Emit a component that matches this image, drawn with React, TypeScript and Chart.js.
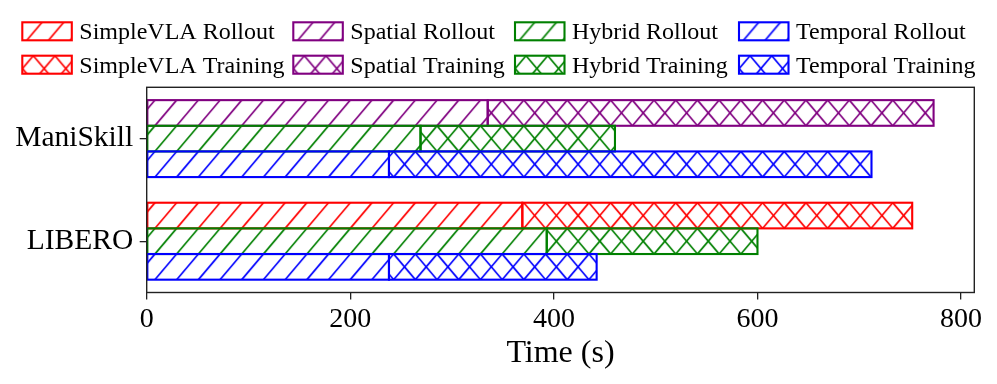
import React, { useEffect, useRef } from 'react';
import { Chart, registerables } from 'chart.js';

Chart.register(...registerables);

// ---------------- data ----------------
const categories = ['ManiSkill', 'LIBERO'];
const simpleVlaRollout = [null, 369];
const simpleVlaTraining = [null, 383];
const spatialRollout = [335, null];
const spatialTraining = [438, null];
const hybridRollout = [269, 393];
const hybridTraining = [191, 207];
const temporalRollout = [238, 238];
const temporalTraining = [474, 204];
const xTickValues = [0, 200, 400, 600, 800];
const xMax = 813;
const xTitle = 'Time (s)';

// ---------------- styling ----------------
const FONT = "'Liberation Serif', 'Times New Roman', Times, serif";
const HATCH_P = 21.7; // horizontal period
const HATCH_Q = 25.65; // vertical period

type Series = {
  label: string;
  color: string;
  cross: boolean;
  stack: string;
  data: (number | null)[];
};

const series: Series[] = [
  { label: 'SimpleVLA Rollout', color: '#ff0000', cross: false, stack: 'A', data: simpleVlaRollout },
  { label: 'SimpleVLA Training', color: '#ff0000', cross: true, stack: 'A', data: simpleVlaTraining },
  { label: 'Spatial Rollout', color: '#800080', cross: false, stack: 'A', data: spatialRollout },
  { label: 'Spatial Training', color: '#800080', cross: true, stack: 'A', data: spatialTraining },
  { label: 'Hybrid Rollout', color: '#008000', cross: false, stack: 'B', data: hybridRollout },
  { label: 'Hybrid Training', color: '#008000', cross: true, stack: 'B', data: hybridTraining },
  { label: 'Temporal Rollout', color: '#0000ff', cross: false, stack: 'C', data: temporalRollout },
  { label: 'Temporal Training', color: '#0000ff', cross: true, stack: 'C', data: temporalTraining },
];

function makeHatch(ctx: CanvasRenderingContext2D, color: string, cross: boolean, tx: number, ty: number) {
  const w = Math.round(HATCH_P * 10);
  const h = Math.round(HATCH_Q * 20);
  const c = document.createElement('canvas');
  c.width = w;
  c.height = h;
  const g = c.getContext('2d')!;
  g.strokeStyle = color;
  g.lineWidth = 1.7;
  g.beginPath();
  for (let n = -2; n <= 32; n++) {
    g.moveTo(n * HATCH_P, 0);
    g.lineTo((n - 20) * HATCH_P, h);
  }
  if (cross) {
    for (let n = -22; n <= 12; n++) {
      g.moveTo(n * HATCH_P, 0);
      g.lineTo((n + 20) * HATCH_P, h);
    }
  }
  g.stroke();
  const pat = ctx.createPattern(c, 'repeat')!;
  pat.setTransform(new DOMMatrix([1, 0, 0, 1, tx, ty]));
  return pat;
}

const LEGEND_COL_X = [22.3, 293.3, 515, 739];
const LEGEND_ROW_Y = [22.3, 55.7];
const LEGEND_BOX_W = 49.5;
const LEGEND_BOX_H = 18;
const LEGEND_TEXT_DX = 57;

export default function App() {
  const canvasRef = useRef<HTMLCanvasElement | null>(null);

  useEffect(() => {
    const canvas = canvasRef.current!;
    const ctx = canvas.getContext('2d')!;

    const barPatterns = series.map((s) => makeHatch(ctx, s.color, s.cross, 3, 23.15));

    const outlinePlugin = {
      id: 'outlines',
      afterDatasetsDraw(chart: any) {
        const c = chart.ctx;
        c.save();
        chart.data.datasets.forEach((ds: any, i: number) => {
          const meta = chart.getDatasetMeta(i);
          meta.data.forEach((el: any, j: number) => {
            if (ds.data[j] == null) return;
            const p = el.getProps(['x', 'y', 'base', 'height'], true);
            c.strokeStyle = series[i].color;
            c.lineWidth = 2.1;
            c.strokeRect(Math.min(p.base, p.x), p.y - p.height / 2, Math.abs(p.x - p.base), p.height);
          });
        });
        const a = chart.chartArea;
        c.strokeStyle = '#222';
        c.lineWidth = 1.4;
        c.strokeRect(a.left, a.top, a.right - a.left, a.bottom - a.top);
        c.restore();
      },
    };

    const legendPlugin = {
      id: 'gridLegend',
      afterDraw(chart: any) {
        const c = chart.ctx;
        c.save();
        series.forEach((s, i) => {
          const col = Math.floor(i / 2);
          const row = i % 2;
          const x = LEGEND_COL_X[col];
          const y = LEGEND_ROW_Y[row];
          const pat = s.cross
            ? makeHatch(c, s.color, true, x + 11, y)
            : makeHatch(c, s.color, false, x + 4.4, y + LEGEND_BOX_H);
          c.fillStyle = '#fff';
          c.fillRect(x, y, LEGEND_BOX_W, LEGEND_BOX_H);
          c.fillStyle = pat;
          c.fillRect(x, y, LEGEND_BOX_W, LEGEND_BOX_H);
          c.strokeStyle = s.color;
          c.lineWidth = 2.1;
          c.strokeRect(x, y, LEGEND_BOX_W, LEGEND_BOX_H);
          c.fillStyle = '#000';
          c.font = `24px ${FONT}`;
          c.textBaseline = 'alphabetic';
          c.textAlign = 'left';
          c.fillText(s.label, x + LEGEND_TEXT_DX, y + LEGEND_BOX_H - 1.2);
        });
        c.restore();
      },
    };

    const chart = new Chart(ctx, {
      type: 'bar',
      data: {
        labels: categories,
        datasets: series.map((s, i) => ({
          label: s.label,
          data: s.data as any,
          stack: s.stack,
          backgroundColor: barPatterns[i] as any,
          borderWidth: 0,
          categoryPercentage: 0.75,
          barPercentage: 1.0,
        })),
      },
      options: {
        indexAxis: 'y',
        responsive: false,
        animation: false,
        devicePixelRatio: 1,
        layout: { padding: { top: 87.3, right: 22.7, left: 0, bottom: 0 } },
        plugins: {
          legend: { display: false },
          tooltip: { enabled: false },
          title: { display: false },
        },
        scales: {
          x: {
            type: 'linear',
            stacked: true,
            min: 0,
            max: xMax,
            afterFit: (scale: any) => {
              scale.height = 91.5;
            },
            afterBuildTicks: (scale: any) => {
              scale.ticks = xTickValues.map((v) => ({ value: v }));
            },
            ticks: {
              padding: 3,
              color: '#000',
              font: { family: FONT, size: 28 },
              maxRotation: 0,
            },
            grid: {
              display: true,
              drawOnChartArea: false,
              drawTicks: true,
              tickLength: 7,
              color: '#222',
              lineWidth: 1.3,
            },
            border: { display: false },
            title: {
              display: true,
              text: xTitle,
              color: '#000',
              font: { family: FONT, size: 32 },
              padding: { top: 0, bottom: 11 },
            },
          },
          y: {
            type: 'category',
            stacked: true,
            offset: true,
            afterFit: (scale: any) => {
              scale.width = 146.7;
            },
            ticks: {
              padding: 6.5,
              color: '#000',
              font: { family: FONT, size: 29.5 },
            },
            grid: {
              display: true,
              offset: false,
              drawOnChartArea: false,
              drawTicks: true,
              tickLength: 7,
              color: '#222',
              lineWidth: 1.3,
            },
            border: { display: false },
          },
        },
      },
      plugins: [outlinePlugin, legendPlugin],
    } as any);

    return () => chart.destroy();
  }, []);

  return (
    <div style={{ position: 'absolute', left: 0, top: 0, width: 997, height: 384, background: '#fff' }}>
      <canvas ref={canvasRef} width={997} height={384} style={{ width: 997, height: 384, display: 'block' }} />
    </div>
  );
}
